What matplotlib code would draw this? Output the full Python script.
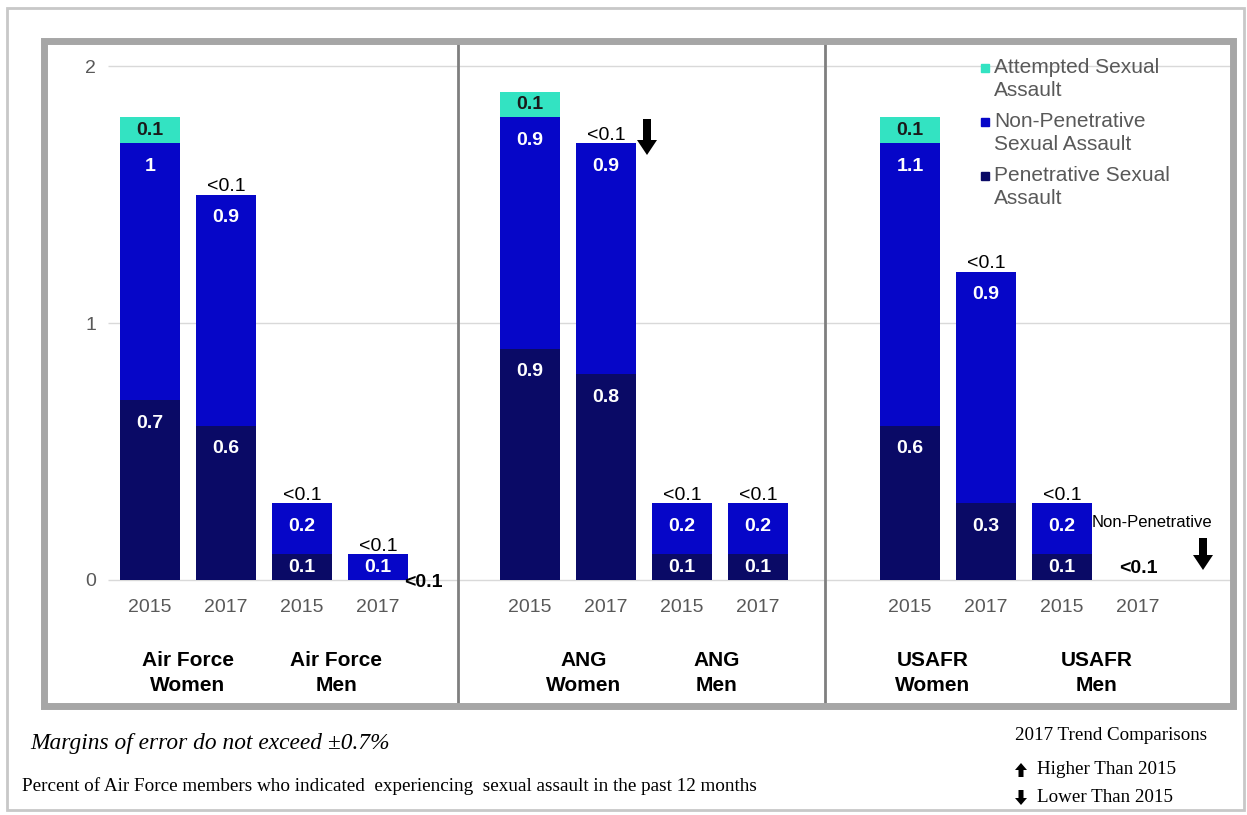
import matplotlib
matplotlib.use("Agg")
import matplotlib.pyplot as plt
from matplotlib.patches import Rectangle, Polygon
import numpy as np

# data (percent)
years = ['2015', '2017'] * 6
positions = [0, 1, 2, 3, 5, 6, 7, 8, 10, 11, 12, 13]
penetrative = [0.7, 0.6, 0.1, 0.0, 0.9, 0.8, 0.1, 0.1, 0.6, 0.3, 0.1, 0.0]
non_penetrative = [1.0, 0.9, 0.2, 0.1, 0.9, 0.9, 0.2, 0.2, 1.1, 0.9, 0.2, 0.0]
attempted = [0.1, 0.0, 0.0, 0.0, 0.1, 0.0, 0.0, 0.0, 0.1, 0.0, 0.0, 0.0]
pen_lbl = ['0.7', '0.6', '0.1', '', '0.9', '0.8', '0.1', '0.1', '0.6', '0.3', '0.1', '']
nonpen_lbl = ['1', '0.9', '0.2', '0.1', '0.9', '0.9', '0.2', '0.2', '1.1', '0.9', '0.2', '']
att_lbl = ['0.1', '<0.1', '<0.1', '<0.1', '0.1', '<0.1', '<0.1', '<0.1', '0.1', '<0.1', '<0.1', '']
groups = ['Air Force\nWomen', 'Air Force\nMen', 'ANG\nWomen', 'ANG\nMen', 'USAFR\nWomen', 'USAFR\nMen']
group_x = [0.5, 2.45, 5.7, 7.45, 10.3, 12.45]

c_att = '#33E3C2'
c_non = '#0606C8'
c_pen = '#0A0A66'
grey_txt = '#595959'
SANS = 'Liberation Sans'
SERIF = 'Liberation Serif'

W, H = 1247, 815
fig = plt.figure(figsize=(W / 100, H / 100), dpi=100)
fig.patch.set_facecolor('white')


def fx(x):
    return x / W


def fy(y):
    return 1 - y / H


def arrow(xc, ytop, ybot, shaft, head, head_len, up=False, color='black'):
    # thick block arrow drawn in figure pixel space
    hs, hh = shaft / 2, head / 2
    if not up:
        yb = ybot - head_len
        pts = [(xc - hs, ytop), (xc + hs, ytop), (xc + hs, yb), (xc + hh, yb),
               (xc, ybot), (xc - hh, yb), (xc - hs, yb)]
    else:
        yb = ytop + head_len
        pts = [(xc - hs, ybot), (xc + hs, ybot), (xc + hs, yb), (xc + hh, yb),
               (xc, ytop), (xc - hh, yb), (xc - hs, yb)]
    fig.patches.append(Polygon([(fx(a), fy(b)) for a, b in pts], closed=True,
                               transform=fig.transFigure, facecolor=color,
                               edgecolor='none', zorder=5))


# outer border
fig.patches.append(Rectangle((fx(7), fy(810)), fx(1244) - fx(7), fy(8) - fy(810),
                             transform=fig.transFigure, fill=False,
                             edgecolor='#C8C8C8', lw=2))

left, right, top, bottom = 44, 1233, 41, 706
ax = fig.add_axes([fx(left), fy(bottom), fx(right) - fx(left), fy(top) - fy(bottom)])
ax.set_xlim((left - 150) / 76, (right - 150) / 76)
ax.set_ylim((580 - bottom) / 257, (580 - top) / 257)
ax.set_facecolor('white')

pos = np.array(positions, dtype=float)
pen = np.array(penetrative)
non = np.array(non_penetrative)
att = np.array(attempted)

# light gridlines
for v in [0, 1, 2]:
    ax.hlines(v, -0.55, ax.get_xlim()[1], color='#D9D9D9', lw=1, zorder=0)

bw = 0.79
ax.bar(pos, pen, bw, color=c_pen, zorder=2)
ax.bar(pos, non, bw, bottom=pen, color=c_non, zorder=2)
ax.bar(pos, att, bw, bottom=pen + non, color=c_att, zorder=2)

# value labels
for i, p in enumerate(pos):
    if pen_lbl[i]:
        ax.text(p, pen[i] - min(0.09, pen[i] / 2), pen_lbl[i], ha='center', va='center',
                color='white', fontsize=14, fontweight='bold', family=SANS, zorder=3)
    if nonpen_lbl[i]:
        ax.text(p, pen[i] + non[i] - min(0.09, non[i] / 2), nonpen_lbl[i], ha='center',
                va='center', color='white', fontsize=14, fontweight='bold',
                family=SANS, zorder=3)
    tot = pen[i] + non[i] + att[i]
    if att_lbl[i] == '<0.1':
        ax.text(p, tot + 0.03, att_lbl[i], ha='center', va='center', color='black',
                fontsize=14, family=SANS, zorder=3)
    elif att_lbl[i]:
        ax.text(p, tot - att[i] / 2, att_lbl[i], ha='center', va='center', color='#1a1a1a',
                fontsize=14, fontweight='bold', family=SANS, zorder=3)

# special small labels
ax.text(3.6, -0.01, '<0.1', ha='center', va='center', color='black', fontsize=14,
        fontweight='bold', family=SANS, zorder=3)
ax.text(13, 0.045, '<0.1', ha='center', va='center', color='black', fontsize=14,
        fontweight='bold', family=SANS, zorder=3)
ax.text(13.18, 0.225, 'Non-Penetrative', ha='center', va='center', color='black',
        fontsize=12, family=SANS, zorder=3)

# axes styling
for s in ax.spines.values():
    s.set_visible(False)
ax.spines['left'].set_position(('data', -0.62))
ax.spines['bottom'].set_position(('data', 0))
ax.set_yticks([0, 1, 2])
ax.set_yticklabels(['0', '1', '2'], color=grey_txt, fontsize=14, family=SANS)
ax.set_xticks(pos)
ax.set_xticklabels(years, color=grey_txt, fontsize=14, family=SANS)
ax.tick_params(length=0)
ax.tick_params(axis='x', pad=14)
ax.tick_params(axis='y', pad=5)

for gx, g in zip(group_x, groups):
    ax.text(gx, -0.362, g, ha='center', va='center', fontsize=15, fontweight='bold',
            family=SANS, linespacing=1.42)

# panel dividers
for xd in [(458 - 150) / 76, (825 - 150) / 76]:
    ax.vlines(xd, ax.get_ylim()[0], ax.get_ylim()[1], color='#7F7F7F', lw=2, zorder=1)

fig.patches.append(Rectangle((fx(left), fy(bottom)), fx(right) - fx(left), fy(top) - fy(bottom),
                             transform=fig.transFigure, fill=False,
                             edgecolor='#A6A6A6', lw=5, zorder=6))

# legend
leg_items = [('Attempted Sexual\nAssault', c_att, 67),
             ('Non-Penetrative\nSexual Assault', c_non, 121),
             ('Penetrative Sexual\nAssault', c_pen, 175)]
for lab, col, y in leg_items:
    fig.patches.append(Rectangle((fx(981), fy(y + 5)), fx(8), 8 / H,
                                 transform=fig.transFigure, color=col))
    fig.text(fx(994), fy(y + 12), lab, ha='left', va='center', color=grey_txt,
             fontsize=15, family=SANS, linespacing=1.22)

# trend arrows
arrow(647, 119, 155, 8, 20, 15)
arrow(1203, 538, 570, 8, 20, 15)

# notes below the chart
fig.text(fx(30), fy(743), 'Margins of error do not exceed \u00b10.7%', ha='left', va='center',
         fontsize=16.8, style='italic', family=SERIF)
fig.text(fx(22), fy(786), 'Percent of Air Force members who indicated  experiencing  sexual assault in the past 12 months',
         ha='left', va='center', fontsize=13.8, family=SERIF)
fig.text(fx(1015), fy(736), '2017 Trend Comparisons', ha='left', va='center',
         fontsize=13.7, family=SERIF)
fig.text(fx(1037), fy(770), 'Higher Than 2015', ha='left', va='center',
         fontsize=13.7, family=SERIF)
fig.text(fx(1037), fy(797), 'Lower Than 2015', ha='left', va='center',
         fontsize=13.7, family=SERIF)
arrow(1021, 763, 777, 5, 12, 7, up=True)
arrow(1021, 790, 805, 5, 12, 7)

fig.savefig('out.png', dpi=100)
